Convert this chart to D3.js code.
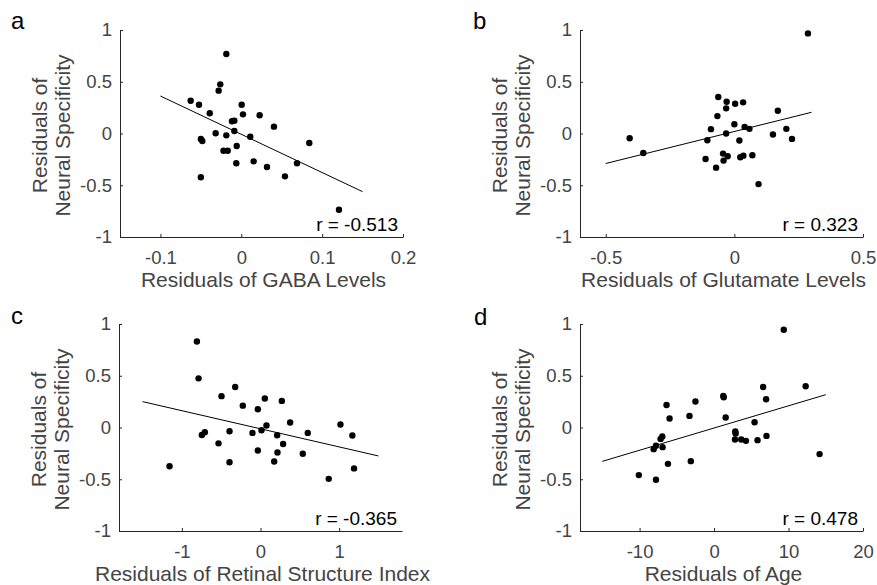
<!DOCTYPE html>
<html>
<head>
<meta charset="utf-8">
<script src="https://cdn.jsdelivr.net/npm/d3@7"></script>
<style>
  html, body { margin: 0; padding: 0; background: #fff; }
  svg { display: block; }
  text { font-family: "Liberation Sans", Arial, Helvetica, sans-serif; }
</style>
</head>
<body>
<svg id="chart" width="877" height="585"></svg>
<script>
// ---------------- data ----------------
const yTicks = [-1, -0.5, 0, 0.5, 1];
const yTitleLines = ["Residuals of", "Neural Specificity"];

// a: GABA
const gabaX = [-0.0626,-0.0523,-0.039,-0.026,-0.028,-0.0185,-0.05,-0.0482,-0.05,-0.0317,-0.0185,-0.022,-0.0168,-0.0115,-0.0086,-0.0086,-0.0057,-0.0062,0.0005,0.0021,0.0111,0.0153,0.0227,0.0318,0.0404,0.054,0.0689,0.0841,0.1208];
const gabaY = [0.317,0.278,0.195,0.475,0.414,0.768,-0.053,-0.072,-0.423,0.002,-0.018,-0.166,-0.166,0.118,0.124,0.024,-0.121,-0.288,0.278,0.185,-0.031,-0.269,0.176,-0.324,0.066,-0.414,-0.288,-0.092,-0.736];
const gabaDomain = [-0.15, 0.2];
const gabaTicks = [-0.1, 0, 0.1, 0.2];
const gabaFitX = [-0.1, 0.15];
const gabaFitY = [0.362, -0.562];

// b: Glutamate
const gluX = [-0.407,-0.354,-0.112,-0.105,-0.091,-0.071,-0.066,-0.0625,-0.044,-0.042,-0.032,-0.032,-0.030,-0.026,0.0,0.003,0.0195,0.023,0.035,0.034,0.040,0.0586,0.070,0.094,0.150,0.169,0.202,0.224,0.286];
const gluY = [-0.046,-0.188,-0.246,-0.065,0.042,-0.330,0.168,0.352,-0.194,-0.262,0.243,0.0,0.307,-0.220,0.090,0.287,-0.068,-0.230,-0.214,0.301,0.064,0.045,-0.210,-0.489,-0.010,0.220,0.045,-0.052,0.967];
const gluDomain = [-0.6, 0.5];
const gluTicks = [-0.5, 0, 0.5];
const gluFitX = [-0.5, 0.3];
const gluFitY = [-0.29, 0.205];

// c: Retinal Structure Index
const rsiX = [-1.157,-0.809,-0.788,-0.746,-0.708,-0.534,-0.496,-0.394,-0.394,-0.322,-0.225,-0.102,-0.034,-0.034,0.013,0.055,0.076,0.174,0.212,0.216,0.271,0.288,0.377,0.538,0.601,0.868,1.017,1.169,1.190];
const rsiY = [-0.375,0.831,0.475,-0.072,-0.046,-0.153,0.303,-0.036,-0.336,0.391,0.211,-0.052,0.176,-0.222,-0.026,0.280,0.020,-0.329,-0.075,-0.241,0.257,-0.160,0.049,-0.254,-0.052,-0.496,0.029,-0.078,-0.395];
const rsiDomain = [-1.8, 1.8];
const rsiTicks = [-1, 0, 1];
const rsiFitX = [-1.5, 1.5];
const rsiFitY = [0.25, -0.275];

// d: Age
const ageX = [-10.1,-8.11,-7.8,-7.8,-7.18,-6.95,-6.91,-6.38,-6.19,-5.97,-3.3,-3.12,-2.5,1.24,1.3,1.56,2.85,2.9,2.81,3.65,4.28,5.44,5.84,6.59,6.99,7.04,9.36,12.3,14.17];
const ageY = [-0.460,-0.209,-0.177,-0.505,-0.110,-0.087,-0.190,0.218,-0.351,0.087,0.112,-0.325,0.251,0.305,0.292,0.096,-0.039,-0.058,-0.116,-0.116,-0.129,0.051,-0.122,0.392,0.273,-0.081,0.945,0.398,-0.257];
const ageDomain = [-18, 20];
const ageTicks = [-10, 0, 10, 20];
const ageFitX = [-15, 15];
const ageFitY = [-0.327, 0.317];

const panelLetters = ["a", "b", "c", "d"];
const rLabels = ["r = -0.513", "r = 0.323", "r = -0.365", "r = 0.478"];
const xTitles = ["Residuals of GABA Levels", "Residuals of Glutamate Levels", "Residuals of Retinal Structure Index", "Residuals of Age"];

// ---------------- layout ----------------
const W = 283, H = 207;
const AXIS = "#262626";
const TXT = "#444444";
const panels = [
  { left: 120, top: 30, xs: gabaX, ys: gabaY, dom: gabaDomain, ticks: gabaTicks, fx: gabaFitX, fy: gabaFitY, letterX: 11, letterY: 29 },
  { left: 580, top: 30, xs: gluX, ys: gluY, dom: gluDomain, ticks: gluTicks, fx: gluFitX, fy: gluFitY, letterX: 473, letterY: 29 },
  { left: 119, top: 324, xs: rsiX, ys: rsiY, dom: rsiDomain, ticks: rsiTicks, fx: rsiFitX, fy: rsiFitY, letterX: 11, letterY: 324 },
  { left: 580, top: 324, xs: ageX, ys: ageY, dom: ageDomain, ticks: ageTicks, fx: ageFitX, fy: ageFitY, letterX: 474, letterY: 325 }
];

const fmt = v => String(v);
const svg = d3.select("#chart");

panels.forEach((p, i) => {
  const g = svg.append("g").attr("transform", `translate(${p.left},${p.top})`);
  const x = d3.scaleLinear().domain(p.dom).range([0, W]);
  const y = d3.scaleLinear().domain([-1, 1]).range([H, 0]);

  // y axis
  const ya = g.append("g").call(d3.axisLeft(y).tickValues(yTicks).tickFormat(fmt).tickSizeInner(-3).tickSizeOuter(0).tickPadding(8));
  // x axis
  const xa = g.append("g").attr("transform", `translate(0,${H})`)
    .call(d3.axisBottom(x).tickValues(p.ticks).tickFormat(fmt).tickSizeInner(-3).tickSizeOuter(0).tickPadding(10));
  [ya, xa].forEach(a => {
    a.select(".domain").attr("stroke", AXIS).attr("stroke-width", 1);
    a.selectAll(".tick line").attr("stroke", AXIS);
    a.selectAll(".tick text").attr("fill", TXT).style("font-size", "18.5px")
      .style("font-family", '"Liberation Sans", Arial, sans-serif');
  });
  xa.selectAll(".tick text").attr("dy", "0.9em");

  // fit line
  g.append("line")
    .attr("x1", x(p.fx[0])).attr("y1", y(p.fy[0]))
    .attr("x2", x(p.fx[1])).attr("y2", y(p.fy[1]))
    .attr("stroke", "#000").attr("stroke-width", 1);

  // points
  g.selectAll("circle.pt").data(p.xs.map((v, k) => [v, p.ys[k]])).enter()
    .append("circle").attr("class", "pt")
    .attr("cx", d => x(d[0])).attr("cy", d => y(d[1])).attr("r", 3.2).attr("fill", "#000");

  // r label
  g.append("text").attr("x", W - 5).attr("y", H - 6.5).attr("text-anchor", "end")
    .style("font-size", "19px").attr("fill", "#000").text(rLabels[i]);

  // x title
  g.append("text").attr("x", W / 2 + 2).attr("y", H + 50).attr("text-anchor", "middle")
    .style("font-size", "21px").attr("fill", TXT).text(xTitles[i]);

  // y title (two lines)
  const yt = g.append("text").attr("transform", `translate(${-73},${H / 2 + 2}) rotate(-90)`)
    .attr("text-anchor", "middle").style("font-size", "21px").attr("fill", TXT);
  yt.append("tspan").attr("x", 0).attr("y", 0).text(yTitleLines[0]);
  yt.append("tspan").attr("x", 0).attr("y", 22.5).text(yTitleLines[1]);

  // panel letter
  svg.append("text").attr("x", p.letterX).attr("y", p.letterY)
    .style("font-size", "24px").attr("fill", "#000").text(panelLetters[i]);
});
</script>
</body>
</html>
